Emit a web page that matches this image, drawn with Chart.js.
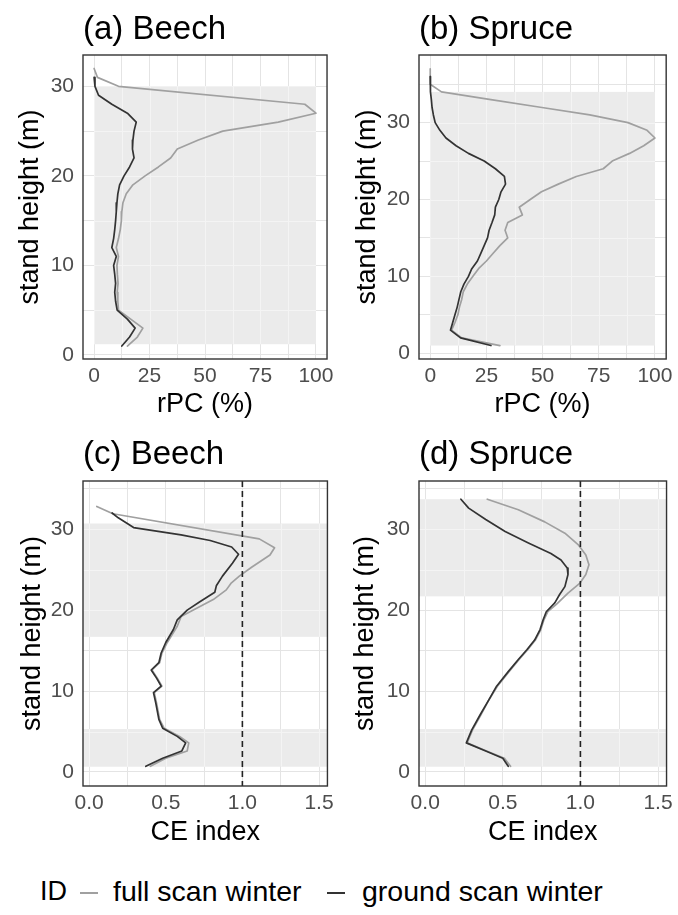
<!DOCTYPE html>
<html>
<head>
<meta charset="utf-8">
<script src="https://cdn.jsdelivr.net/npm/chart.js@4/dist/chart.umd.min.js"></script>
<style>
  html, body { margin: 0; padding: 0; background: #fff; }
  body { width: 678px; height: 915px; position: relative; overflow: hidden;
         font-family: "Liberation Sans", Arial, sans-serif; }
  .lg { position: absolute; white-space: nowrap; color: #000; line-height: 1; }
  .key { position: absolute; height: 1.6px; }
</style>
</head>
<body>
<div class="lg" id="lgTitle"></div>
<div class="key" id="key0"></div>
<div class="lg" id="lg0"></div>
<div class="key" id="key1"></div>
<div class="lg" id="lg1"></div>
<script>
// ---------------- data ----------------
const seriesNames = ['full scan winter', 'ground scan winter'];
const legendTitle = 'ID';

const rpcTicks = [0, 12.5, 25, 37.5, 50, 62.5, 75, 87.5, 100];
const ceTicks = [0, 0.25, 0.5, 0.75, 1, 1.25, 1.5];
const heightTicks = [0, 5, 10, 15, 20, 25, 30, 35];
const rpcLabels = { 0: '0', 25: '25', 50: '50', 75: '75', 100: '100' };
const ceLabels = { 0: '0.0', 0.5: '0.5', 1: '1.0', 1.5: '1.5' };
const heightLabels = { 0: '0', 10: '10', 20: '20', 30: '30' };

// (a) Beech – rPC (%)
const aFullH   = [32, 31, 30, 28, 27, 26, 25, 24, 23, 22, 21, 20, 19, 18, 17, 16, 15, 14, 13, 12, 11, 10, 9, 8, 7, 6, 5, 4, 3, 2, 1];
const aFull    = [0, 1.5, 11, 95, 100, 83, 58, 47, 37.5, 34.5, 29, 23, 17.5, 14.5, 13, 12.5, 12.3, 11.8, 11, 10, 11, 10.3, 10.5, 10.8, 10.4, 10.7, 11, 16.5, 22, 19.5, 15];
const aGroundH = [31, 30, 29, 28, 27, 26, 25, 24, 23, 22, 21, 20, 19, 18, 17, 16, 15, 14, 13, 12, 11, 10, 9, 8, 7, 6, 5, 4, 3, 2, 1];
const aGround  = [0, 0.4, 2, 8, 15, 19, 18, 17.5, 17.3, 18, 16, 13.5, 11.5, 10.7, 10.3, 10, 9.7, 9.3, 8.8, 8, 10, 8.8, 9.3, 9.7, 9.3, 9.7, 10.4, 15, 18.5, 16, 12.5];
const aBands   = [[0, 100, 1.2, 30]];

// (b) Spruce – rPC (%)
const bFullH   = [37, 35, 34, 33, 32, 31, 30, 29, 28, 27, 26, 25, 24, 23, 22, 21, 20, 19, 18, 17, 16, 15, 14, 13, 12, 11, 10, 9, 8, 7, 6, 5, 4, 3, 2, 1];
const bFull    = [0, 0, 5, 27, 49, 71, 88, 96.5, 100, 95, 88.7, 81, 77, 65, 57, 49.5, 44.5, 39.6, 41, 34.5, 33.3, 34.5, 31, 28, 25, 21.5, 19, 16.5, 14.7, 14, 13, 12.3, 11, 9.5, 14, 31];
const bGroundH = [36, 35, 34, 33, 32, 31, 30, 29, 28, 27, 26, 25, 24, 23, 22, 21, 20, 19, 18, 17, 16, 15, 14, 13, 12, 11, 10, 9, 8, 7, 6, 5, 4, 3, 2, 1];
const bGround  = [0, 0, 0.2, 0.5, 0.8, 1.4, 2.2, 4.3, 7, 11.5, 17, 24, 29, 33, 33.5, 31.5, 30.5, 29, 28.7, 27.5, 26.2, 25.5, 24, 22.5, 21, 18.5, 17, 15, 13.6, 12.8, 12, 11, 10, 9, 13.5, 27];
const bBands   = [[0, 100, 1.0, 34]];

// (c) Beech – CE index
const cFullH   = [32.8, 31.9, 28.8, 27.7, 26.8, 25.3, 24.2, 23.3, 22.5, 21.3, 20, 19.2, 18, 16, 14.7, 13.5, 12.6, 11.6, 10.6, 9.8, 8.5, 6.5, 5.4, 4.4, 3.6, 2.6, 1.7, 0.7];
const cFull    = [0.05, 0.155, 1.11, 1.21, 1.18, 1.06, 0.98, 0.925, 0.895, 0.81, 0.68, 0.6, 0.575, 0.51, 0.475, 0.46, 0.41, 0.445, 0.475, 0.425, 0.44, 0.46, 0.49, 0.59, 0.65, 0.64, 0.5, 0.4];
const cGroundH = [32, 31.4, 30.2, 29.3, 28.6, 27.8, 26.9, 25.8, 24.2, 23, 22.2, 21, 20, 18.8, 17.6, 16, 14.7, 13.5, 12.6, 11.6, 10.6, 9.8, 8.5, 6.5, 5.4, 4.4, 3.6, 2.6, 1.7, 0.7];
const cGround  = [0.15, 0.19, 0.29, 0.6, 0.79, 0.93, 0.975, 0.935, 0.87, 0.83, 0.82, 0.72, 0.64, 0.575, 0.55, 0.5, 0.47, 0.455, 0.405, 0.44, 0.47, 0.42, 0.435, 0.455, 0.48, 0.575, 0.63, 0.605, 0.48, 0.37];
const cBands   = [[null, null, 0.65, 5.3], [null, null, 16.7, 30.7]];

// (d) Spruce – CE index
const dFullH   = [33.7, 32.4, 30.9, 29.5, 28.1, 26.8, 25.6, 24.4, 23.3, 22.1, 20.7, 19.8, 18.8, 17.6, 16.3, 15.1, 13.9, 12.4, 10.6, 8.9, 7.1, 5.2, 3.6, 2.6, 1.7, 0.7];
const dFull    = [0.4, 0.6, 0.77, 0.9, 0.985, 1.035, 1.055, 1.035, 0.995, 0.92, 0.845, 0.79, 0.765, 0.745, 0.71, 0.66, 0.605, 0.54, 0.465, 0.41, 0.36, 0.305, 0.27, 0.395, 0.51, 0.55];
const dGroundH = [33.7, 32.6, 31.2, 29.7, 28.3, 27, 26.2, 25.2, 24.4, 22.9, 21.9, 20.9, 19.8, 18.8, 17.6, 16.3, 15.1, 13.9, 12.4, 10.6, 8.9, 7.1, 5.2, 3.6, 2.6, 1.7, 0.7];
const dGround  = [0.23, 0.28, 0.39, 0.515, 0.665, 0.81, 0.875, 0.915, 0.92, 0.9, 0.865, 0.835, 0.78, 0.76, 0.74, 0.705, 0.655, 0.6, 0.535, 0.46, 0.41, 0.355, 0.3, 0.265, 0.39, 0.5, 0.535];
const dBands   = [[null, null, 0.65, 5.3], [null, null, 21.7, 33.7]];

const ceReference = 1;

// ---------------- styles ----------------
const FONT = '"Liberation Sans", Arial, sans-serif';
const COLOR_FULL = '#a0a0a0';
const COLOR_GROUND = '#333333';
const GRID = '#e4e4e4';
const GRID_IN_BAND = '#f4f4f4';
const BAND = '#ebebeb';
const TICK_COLOR = '#4d4d4d';

function toPoints(hs, vs) {
  return hs.map((h, i) => ({ x: vs[i], y: h }));
}

const panelDecor = {
  id: 'panelDecor',
  beforeDatasetsDraw(chart, args, opts) {
    const { ctx, chartArea: ca } = chart;
    const x = chart.scales.x, y = chart.scales.y;
    ctx.save();
    ctx.beginPath();
    ctx.rect(ca.left, ca.top, ca.right - ca.left, ca.bottom - ca.top);
    ctx.clip();
    (opts.bands || []).forEach(b => {
      const x0 = b[0] === null ? ca.left : x.getPixelForValue(b[0]);
      const x1 = b[1] === null ? ca.right : x.getPixelForValue(b[1]);
      const yTop = y.getPixelForValue(b[3]);
      const yBot = y.getPixelForValue(b[2]);
      ctx.fillStyle = BAND;
      ctx.fillRect(x0, yTop, x1 - x0, yBot - yTop);
      ctx.save();
      ctx.beginPath();
      ctx.rect(x0, yTop, x1 - x0, yBot - yTop);
      ctx.clip();
      ctx.strokeStyle = GRID_IN_BAND;
      ctx.lineWidth = 1;
      x.ticks.forEach(t => {
        const px = Math.round(x.getPixelForValue(t.value)) + 0.5;
        ctx.beginPath(); ctx.moveTo(px, ca.top); ctx.lineTo(px, ca.bottom); ctx.stroke();
      });
      y.ticks.forEach(t => {
        const py = Math.round(y.getPixelForValue(t.value)) + 0.5;
        ctx.beginPath(); ctx.moveTo(ca.left, py); ctx.lineTo(ca.right, py); ctx.stroke();
      });
      ctx.restore();
    });
    ctx.restore();
  },
  afterDatasetsDraw(chart, args, opts) {
    const { ctx, chartArea: ca } = chart;
    const x = chart.scales.x;
    ctx.save();
    if (opts.refX !== null && opts.refX !== undefined) {
      const px = x.getPixelForValue(opts.refX);
      ctx.strokeStyle = '#222';
      ctx.lineWidth = 1.6;
      ctx.setLineDash([6, 4]);
      ctx.beginPath(); ctx.moveTo(px, ca.top); ctx.lineTo(px, ca.bottom); ctx.stroke();
      ctx.setLineDash([]);
    }
    ctx.strokeStyle = '#333';
    ctx.lineWidth = 1.4;
    ctx.strokeRect(ca.left, ca.top, ca.right - ca.left, ca.bottom - ca.top);
    ctx.restore();
  }
};

const panels = [
  { title: '(a) Beech', left: 0, top: 0, w: 339, h: 420, padRight: 6, yAxisW: 83, xAxisH: 61,
    titlePad: [13.5, 8.5], yTitlePad: 17.5, xTitlePad: 1.5,
    xMin: -5, xMax: 105, yMin: -0.45, yMax: 33.5, xTicks: rpcTicks, xLabels: rpcLabels, xTitle: 'rPC (%)',
    fullH: aFullH, full: aFull, groundH: aGroundH, ground: aGround, bands: aBands, refX: null },
  { title: '(b) Spruce', left: 339, top: 0, w: 339, h: 420, padRight: 8, yAxisW: 80, xAxisH: 61,
    titlePad: [13.5, 8.5], yTitlePad: 15, xTitlePad: 1.5,
    xMin: -5, xMax: 105, yMin: -0.75, yMax: 38.8, xTicks: rpcTicks, xLabels: rpcLabels, xTitle: 'rPC (%)',
    fullH: bFullH, full: bFull, groundH: bGroundH, ground: bGround, bands: bBands, refX: null },
  { title: '(c) Beech', left: 0, top: 420, w: 339, h: 430, padRight: 6, yAxisW: 83, xAxisH: 64,
    titlePad: [18.5, 9.5], yTitlePad: 19, xTitlePad: 3.5,
    xMin: -0.04, xMax: 1.555, yMin: -1.73, yMax: 35.95, xTicks: ceTicks, xLabels: ceLabels, xTitle: 'CE index',
    fullH: cFullH, full: cFull, groundH: cGroundH, ground: cGround, bands: cBands, refX: ceReference },
  { title: '(d) Spruce', left: 339, top: 420, w: 339, h: 430, padRight: 8, yAxisW: 80, xAxisH: 64,
    titlePad: [18.5, 9.5], yTitlePad: 13, xTitlePad: 3.5,
    xMin: -0.04, xMax: 1.555, yMin: -1.73, yMax: 35.95, xTicks: ceTicks, xLabels: ceLabels, xTitle: 'CE index',
    fullH: dFullH, full: dFull, groundH: dGroundH, ground: dGround, bands: dBands, refX: ceReference }
];

function makeChart(p) {
  const canvas = document.createElement('canvas');
  canvas.width = p.w; canvas.height = p.h;
  canvas.style.cssText = `position:absolute;left:${p.left}px;top:${p.top}px;width:${p.w}px;height:${p.h}px;`;
  document.body.appendChild(canvas);
  const yTickVals = heightTicks.filter(v => v >= p.yMin && v <= p.yMax);
  new Chart(canvas, {
    type: 'line',
    data: {
      datasets: [
        { label: seriesNames[1], data: toPoints(p.groundH, p.ground), borderColor: COLOR_GROUND,
          borderWidth: 1.7, pointRadius: 0, tension: 0, fill: false, borderJoinStyle: 'round', borderCapStyle: 'round' },
        { label: seriesNames[0], data: toPoints(p.fullH, p.full), borderColor: COLOR_FULL,
          borderWidth: 1.7, pointRadius: 0, tension: 0, fill: false, borderJoinStyle: 'round', borderCapStyle: 'round' }
      ]
    },
    options: {
      responsive: false,
      animation: false,
      devicePixelRatio: 1,
      events: [],
      layout: { padding: { left: 0, right: p.padRight, top: 0, bottom: 0 } },
      plugins: {
        legend: { display: false },
        tooltip: { enabled: false },
        title: {
          display: true, text: p.title, align: 'start', fullSize: false, color: '#000',
          font: { family: FONT, size: 33, weight: 'normal', lineHeight: 1 },
          padding: { top: p.titlePad[0], bottom: p.titlePad[1] }
        },
        panelDecor: { bands: p.bands, refX: p.refX }
      },
      scales: {
        x: {
          type: 'linear', min: p.xMin, max: p.xMax, bounds: 'data',
          afterBuildTicks: s => { s.ticks = p.xTicks.map(v => ({ value: v })); },
          afterFit: s => { s.height = p.xAxisH; },
          ticks: {
            callback: v => (p.xLabels[v] !== undefined ? p.xLabels[v] : ''),
            color: TICK_COLOR, font: { family: FONT, size: 21 }, padding: 5,
            maxRotation: 0, minRotation: 0, autoSkip: false
          },
          grid: { color: GRID, lineWidth: 1, drawTicks: false },
          border: { display: false },
          title: {
            display: true, text: p.xTitle, color: '#000',
            font: { family: FONT, size: 27, lineHeight: 1 },
            padding: { top: 0, bottom: p.xTitlePad }
          }
        },
        y: {
          type: 'linear', min: p.yMin, max: p.yMax, bounds: 'data',
          afterBuildTicks: s => { s.ticks = yTickVals.map(v => ({ value: v })); },
          afterFit: s => { s.width = p.yAxisW; },
          ticks: {
            callback: v => (heightLabels[v] !== undefined ? heightLabels[v] : ''),
            color: TICK_COLOR, font: { family: FONT, size: 21 }, padding: 9, autoSkip: false
          },
          grid: { color: GRID, lineWidth: 1, drawTicks: false },
          border: { display: false },
          title: {
            display: true, text: 'stand height (m)', color: '#000',
            font: { family: FONT, size: 27, lineHeight: 1 },
            padding: { top: p.yTitlePad, bottom: 0 }
          }
        }
      }
    },
    plugins: [panelDecor]
  });
}

panels.forEach(makeChart);

// ---------------- legend (HTML text) ----------------
const legendY = 893;
function placeText(id, text, left, size) {
  const el = document.getElementById(id);
  el.textContent = text;
  el.style.fontSize = size + 'px';
  el.style.left = left + 'px';
  el.style.top = (legendY - size * 0.55) + 'px';
}
function placeKey(id, color, left, width) {
  const el = document.getElementById(id);
  el.style.background = color;
  el.style.left = left + 'px';
  el.style.width = width + 'px';
  el.style.top = (legendY - 1) + 'px';
}
placeText('lgTitle', legendTitle, 40, 27);
placeKey('key0', COLOR_FULL, 80, 18);
placeText('lg0', seriesNames[0], 113, 28.5);
placeKey('key1', COLOR_GROUND, 327, 18);
placeText('lg1', seriesNames[1], 362, 28.5);
</script>
</body>
</html>
